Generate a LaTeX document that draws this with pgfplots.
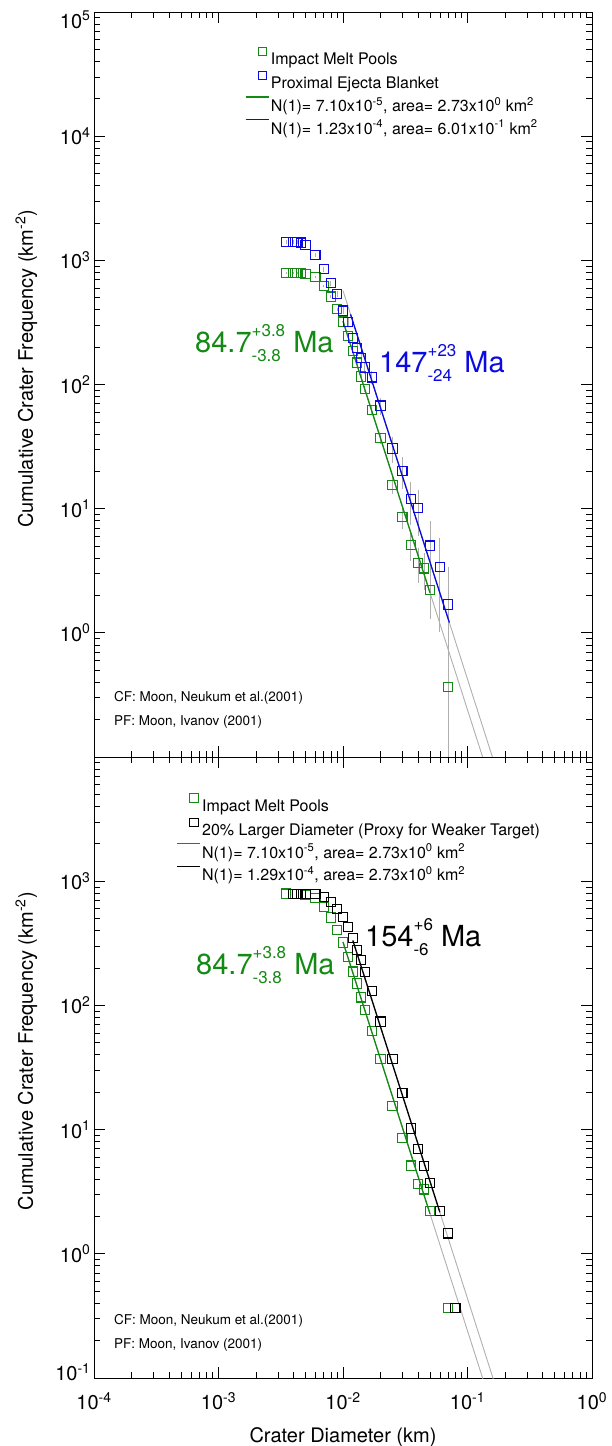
\documentclass[border=0pt]{standalone}
\usepackage{fontspec}
\setmainfont{TeX Gyre Heros}
\usepackage{pgfplots}
\usepackage{pgfplotstable}
\pgfplotsset{compat=1.18}
\definecolor{mgreen}{RGB}{20,138,20}
\definecolor{mblue}{RGB}{10,10,225}
\definecolor{egray}{RGB}{175,175,175}

\pgfplotstableread{
D N ep em
0.0035 795 17.1 17.1
0.004 793 17.0 17.0
0.0043 790 17.0 17.0
0.0046 786 17.0 17.0
0.005 778 16.9 16.9
0.006 731 16.4 16.4
0.007 622 15.1 15.1
0.008 510 13.7 13.7
0.009 404 12.2 12.2
0.01 321 10.8 10.8
0.011 246 9.5 9.5
0.012 187 8.3 8.3
0.013 150 7.4 7.4
0.014 116 6.5 6.5
0.015 92 5.8 5.8
0.017 62 4.8 4.8
0.02 37 3.7 3.7
0.025 15.5 2.38 2.38
0.03 8.6 1.77 1.77
0.035 5.13 1.37 1.37
0.04 3.66 1.16 1.16
0.045 3.30 1.10 1.10
0.05 2.20 0.90 0.90
0.07 0.366 0.366 0.362
}\greendata

\pgfplotstableread{
D N ep em
0.0035 1400 48.3 48.3
0.004 1400 48.3 48.3
0.0043 1400 48.3 48.3
0.0046 1390 48.1 48.1
0.005 1330 47.0 47.0
0.006 1105 42.9 42.9
0.007 848 37.6 37.6
0.008 654 33.0 33.0
0.009 536 29.9 29.9
0.01 394 25.6 25.6
0.011 318 23.0 23.0
0.012 237 19.9 19.9
0.013 196 18.1 18.1
0.014 164 16.5 16.5
0.015 137 15.1 15.1
0.017 114 13.8 13.8
0.02 67.6 10.6 10.6
0.025 30.5 7.12 7.12
0.03 20.1 5.78 5.78
0.035 11.9 4.45 4.45
0.04 10.1 4.1 4.1
0.05 5.04 2.9 2.9
0.06 3.40 2.38 2.38
0.07 1.69 1.68 1.673
}\bluedata

\pgfplotstableread{
D N
0.004 790
0.0043 790
0.0046 790
0.005 790
0.006 785
0.007 750
0.008 684
0.009 594
0.01 518
0.011 430
0.012 347
0.013 281
0.014 233
0.015 185
0.017 130
0.02 74
0.025 36.8
0.03 19.8
0.035 10.2
0.04 6.98
0.045 5.12
0.05 3.70
0.06 2.21
0.07 1.46
0.08 0.366
}\blackdata

\pgfplotsset{
  every axis/.append style={
  scale only axis, width=498pt, xmin=1e-4, xmax=1,
  tick align=inside, major tick length=11pt, minor tick length=6pt,
  axis line style={line width=0.9pt},
  every tick/.style={black, line width=0.7pt},
  xtick={1e-4,1e-3,1e-2,1e-1,1},
  minor xtick={2e-4,3e-4,4e-4,5e-4,6e-4,7e-4,8e-4,9e-4,2e-3,3e-3,4e-3,5e-3,6e-3,7e-3,8e-3,9e-3,2e-2,3e-2,4e-2,5e-2,6e-2,7e-2,8e-2,9e-2,0.2,0.3,0.4,0.5,0.6,0.7,0.8,0.9},
  minor ytick={0.2,0.3,0.4,0.5,0.6,0.7,0.8,0.9,2,3,4,5,6,7,8,9,20,30,40,50,60,70,80,90,200,300,400,500,600,700,800,900,2000,3000,4000,5000,6000,7000,8000,9000,20000,30000,40000,50000,60000,70000,80000,90000},
  tick label style={font=\fontsize{20}{20}\selectfont},
  legend cell align=left,
  legend style={draw=none, fill=none, font=\fontsize{16}{18}\selectfont, row sep=4pt, inner sep=0pt, anchor=north west, nodes={inner sep=1.5pt}},
  },
  mkleg/.style={legend image code/.code={\path[draw=none, fill=none] (0pt,0pt) rectangle (23pt,8pt); \draw[##1, mark size=4.2pt] plot coordinates {(17pt,8pt)};}},
  lnleg/.style={legend image code/.code={\path[draw=none, fill=none] (0pt,0pt) rectangle (23pt,8pt); \draw[##1, line width=1.3pt] (0pt,8pt) -- (23pt,8pt);}},
}
\newcommand\agelab[4]{#1{\fontsize{17}{25}\selectfont\raisebox{4.8pt}{\begin{tabular}[c]{@{}l@{}}#2\\#3\end{tabular}}} #4}

\begin{document}
\begin{tikzpicture}
\path[use as bounding box] (0pt,0pt) rectangle (611pt,1446pt);

% ---------- top panel ----------
\begin{axis}[xmode=log, ymode=log, at={(94pt,689pt)}, anchor=south west, height=745pt,
  ymin=1e-1, ymax=1e5,
  ytick={1,10,100,1000,10000,100000},
  yticklabels={10\textsuperscript{0},10\textsuperscript{1},10\textsuperscript{2},10\textsuperscript{3},10\textsuperscript{4},{\raisebox{-8pt}[\height][\depth]{10\textsuperscript{5}}}},
  xticklabels={},
  ylabel={Cumulative Crater Frequency (km\textsuperscript{-2})},
  every axis y label/.style={at={(axis description cs:-0.136,0.521)}, rotate=90, anchor=center, font=\fontsize{20}{20}\selectfont},
  legend style={at={(axis description cs:0.303,0.953)}},
]
\addplot[egray, line width=0.9pt, no marks, forget plot] coordinates {(0.01,323.6) (0.3,0.0077)};
\addplot[egray, line width=0.9pt, no marks, forget plot] coordinates {(0.01,570) (0.3,0.0136)};
\addplot[only marks, mark=square, mark size=4.6pt, mark options={line width=1.1pt}, mgreen, mkleg,
  error bars/.cd, y dir=both, y explicit, error mark=none, error bar style={egray, line width=0.9pt}]
  table[x=D, y=N, y error plus=ep, y error minus=em] {\greendata};
\addlegendentry{Impact Melt Pools}
\addplot[only marks, mark=square, mark size=4.6pt, mark options={line width=1.1pt}, mblue, mkleg,
  error bars/.cd, y dir=both, y explicit, error mark=none, error bar style={egray, line width=0.9pt}]
  table[x=D, y=N, y error plus=ep, y error minus=em] {\bluedata};
\addlegendentry{Proximal Ejecta Blanket}
\addplot[mgreen, line width=1.3pt, no marks, lnleg] coordinates {(0.01,323.6) (0.05,2.1)};
\addlegendentry{N(1)= 7.10x10\textsuperscript{-5}, area= 2.73x10\textsuperscript{0} km\textsuperscript{2}}
\addplot[mblue, line width=1.3pt, no marks, lnleg] coordinates {(0.0115,367) (0.0715,1.21)};
\addlegendentry{N(1)= 1.23x10\textsuperscript{-4}, area= 6.01x10\textsuperscript{-1} km\textsuperscript{2}}
\end{axis}

% ---------- bottom panel ----------
\begin{axis}[xmode=log, ymode=log, at={(94pt,68pt)}, anchor=south west, height=621pt,
  ymin=1e-1, ymax=1e4,
  ytick={0.1,1,10,100,1000},
  yticklabels={{\raisebox{6pt}[\height][\depth]{10\textsuperscript{-1}}},10\textsuperscript{0},10\textsuperscript{1},10\textsuperscript{2},10\textsuperscript{3}},
  xticklabels={10\textsuperscript{-4},10\textsuperscript{-3},10\textsuperscript{-2},10\textsuperscript{-1},10\textsuperscript{0}},
  xticklabel style={yshift=-11pt},
  xlabel={Crater Diameter (km)},
  every axis x label/.style={at={(axis description cs:0.5,0)}, yshift=-59pt, anchor=center, font=\fontsize{20}{20}\selectfont},
  ylabel={Cumulative Crater Frequency (km\textsuperscript{-2})},
  every axis y label/.style={at={(axis description cs:-0.136,0.526)}, rotate=90, anchor=center, font=\fontsize{20}{20}\selectfont},
  legend style={at={(axis description cs:0.165,0.941)}},
]
\addplot[egray, line width=0.9pt, no marks, forget plot] coordinates {(0.01,323.6) (0.3,0.0077)};
\addplot[egray, line width=0.9pt, no marks, forget plot] coordinates {(0.012,333) (0.3,0.0140)};
\addplot[only marks, mark=square, mark size=4.6pt, mark options={line width=1.1pt}, mgreen, mkleg] table[x=D, y=N] {\greendata};
\addlegendentry{Impact Melt Pools}
\addplot[only marks, mark=square, mark size=4.6pt, mark options={line width=1.1pt}, black, mkleg] table[x=D, y=N] {\blackdata};
\addlegendentry{20\% Larger Diameter (Proxy for Weaker Target)}
\addplot[mgreen, line width=1.3pt, no marks, lnleg] coordinates {(0.01,323.6) (0.05,2.1)};
\addlegendentry{N(1)= 7.10x10\textsuperscript{-5}, area= 2.73x10\textsuperscript{0} km\textsuperscript{2}}
\addplot[black, line width=1.3pt, no marks, lnleg] coordinates {(0.012,333) (0.06,2.16)};
\addlegendentry{N(1)= 1.29x10\textsuperscript{-4}, area= 2.73x10\textsuperscript{0} km\textsuperscript{2}}
\end{axis}

% ---------- annotations ----------
\node[anchor=base west, inner sep=0pt, text=mgreen, font=\fontsize{29}{29}\selectfont] at (195pt,1093pt) {\agelab{84.7}{+3.8}{-3.8}{Ma}};
\node[anchor=base west, inner sep=0pt, text=mblue, font=\fontsize{29}{29}\selectfont] at (379pt,1073pt) {\agelab{147}{+23}{-24}{Ma}};
\node[anchor=base west, inner sep=0pt, text=mgreen, font=\fontsize{29}{29}\selectfont] at (196pt,471pt) {\agelab{84.7}{+3.8}{-3.8}{Ma}};
\node[anchor=base west, inner sep=0pt, text=black, font=\fontsize{29}{29}\selectfont] at (365pt,499pt) {\agelab{154}{+6}{-6}{Ma}};

\node[anchor=base west, inner sep=0pt, font=\fontsize{13.5}{15}\selectfont] at (114pt,744pt) {CF: Moon, Neukum et al.(2001)};
\node[anchor=base west, inner sep=0pt, font=\fontsize{13.5}{15}\selectfont] at (114pt,720pt) {PF: Moon, Ivanov (2001)};
\node[anchor=base west, inner sep=0pt, font=\fontsize{13.5}{15}\selectfont] at (114pt,121pt) {CF: Moon, Neukum et al.(2001)};
\node[anchor=base west, inner sep=0pt, font=\fontsize{13.5}{15}\selectfont] at (114pt,97pt) {PF: Moon, Ivanov (2001)};
\end{tikzpicture}
\end{document}
